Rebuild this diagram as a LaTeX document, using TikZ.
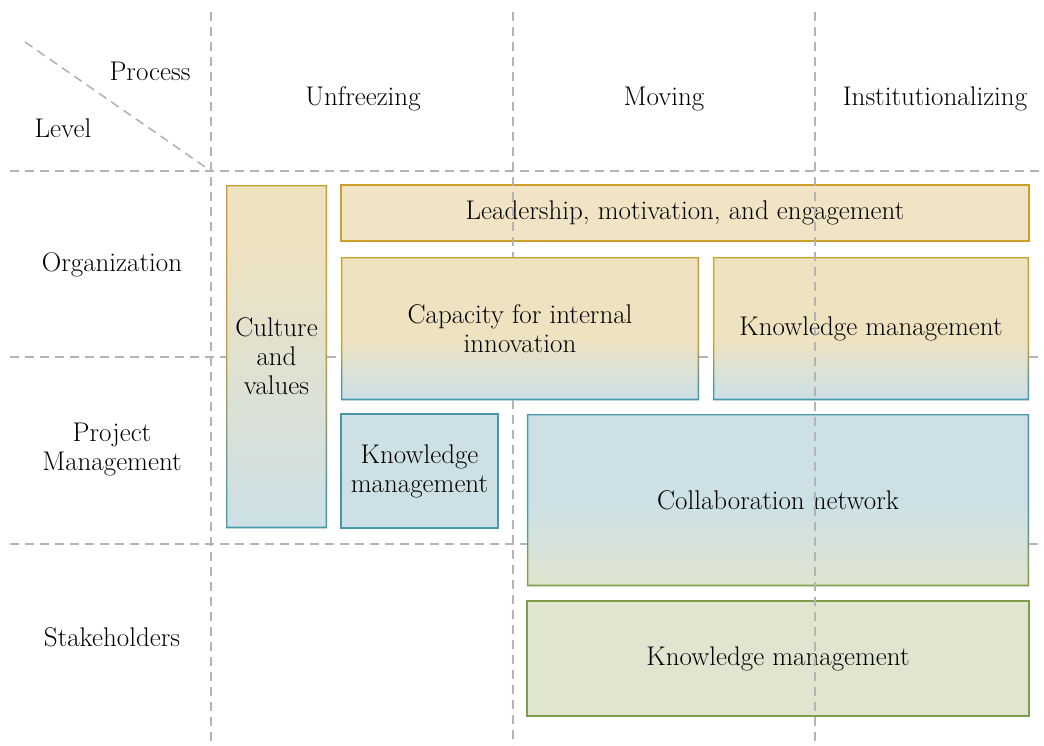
\documentclass[tikz,border=0pt]{standalone}
\usetikzlibrary{calc}
\definecolor{cTan}{RGB}{239,226,192}
\definecolor{cTanP}{RGB}{240,228,196}
\definecolor{cBlue}{RGB}{204,224,230}
\definecolor{cBlueP}{RGB}{204,224,230}
\definecolor{cGreen}{RGB}{223,229,207}
\definecolor{cGold}{RGB}{204,160,40}
\definecolor{cTeal}{RGB}{72,152,172}
\definecolor{cOlive}{RGB}{125,157,72}
\definecolor{cDash}{RGB}{180,180,180}
\pgfdeclareverticalshading{capfill}{100bp}{color(0bp)=(cBlue); color(25bp)=(cBlue); color(47bp)=(cTan); color(100bp)=(cTan)}
\pgfdeclareverticalshading{capborder}{100bp}{color(0bp)=(cTeal); color(30bp)=(cTeal); color(45bp)=(cGold); color(100bp)=(cGold)}
\pgfdeclareverticalshading{culfill}{100bp}{color(0bp)=(cBlue); color(25bp)=(cBlue); color(67bp)=(cTan); color(100bp)=(cTan)}
\pgfdeclareverticalshading{culborder}{100bp}{color(0bp)=(cTeal); color(30bp)=(cTeal); color(52bp)=(cGold); color(100bp)=(cGold)}
\pgfdeclareverticalshading{colfill}{100bp}{color(0bp)=(cGreen); color(25bp)=(cGreen); color(50bp)=(cBlue); color(100bp)=(cBlue)}
\pgfdeclareverticalshading{colborder}{100bp}{color(0bp)=(cOlive); color(32bp)=(cOlive); color(45bp)=(cTeal); color(100bp)=(cTeal)}
\newcommand\gradframe[2]{\shade[shading=#2,even odd rule] (#1.north west) rectangle (#1.south east) ([shift={(1.4pt,-1.4pt)}]#1.north west) rectangle ([shift={(-1.4pt,1.4pt)}]#1.south east);}
\tikzset{
  gridline/.style={draw=cDash, line width=1.6pt, dash pattern=on 9pt off 6pt},
  txt/.style={font=\fontsize{27}{29}\selectfont, align=center, inner sep=0pt},
  boxbase/.style={txt, outer sep=0pt, inner sep=0pt},
  shbox/.style={boxbase},
  patbox/.style={boxbase, line width=1.4pt},
}
\begin{document}
\begin{tikzpicture}[x=1pt,y=-1pt]
\useasboundingbox (0,0) rectangle (1044,745);
% grid coordinates
\coordinate (h1l) at (10,171); \coordinate (h1r) at (1044,171);
\coordinate (h2l) at (10,357); \coordinate (h2r) at (1044,357);
\coordinate (h3l) at (10,544); \coordinate (h3r) at (1044,544);
\coordinate (v1t) at (211,12); \coordinate (v1b) at (211,745);
\coordinate (v2t) at (513,12); \coordinate (v2b) at (513,745);
\coordinate (v3t) at (815,12); \coordinate (v3b) at (815,745);
\coordinate (dg) at (25,42);
% header labels
\node[txt] (process) at (150,71) {Process};
\node[txt] (level) at (63,128) {Level};
\node[txt] (unf) at (363,99) {Unfreezing};
\node[txt] (mov) at (664,99) {Moving};
\node[txt] (inst) at (935,99) {Institutionalizing};
\node[txt] (org) at (112,265) {Organization};
\node[txt] (pm) at (112,450) {Project\\Management};
\node[txt] (stk) at (112,637) {Stakeholders};
% boxes
\node[patbox, draw=cGold, fill=cTanP, minimum width=688pt, minimum height=56pt] (lead) at (685,213) {Leadership, motivation, and engagement};
\node[shbox, shading=culfill, minimum width=101pt, minimum height=343pt] (cult) at (276.5,356.5) {Culture\\and\\values};
\gradframe{cult}{culborder}
\node[shbox, shading=capfill, minimum width=358pt, minimum height=143pt] (cap) at (520,328.5) {Capacity for internal\\innovation};
\gradframe{cap}{capborder}
\node[shbox, shading=capfill, minimum width=316pt, minimum height=143pt] (km1) at (871,328.5) {Knowledge management};
\gradframe{km1}{capborder}
\node[patbox, draw=cTeal, fill=cBlueP, minimum width=157pt, minimum height=114pt] (km2) at (419.5,471) {Knowledge\\management};
\node[shbox, shading=colfill, minimum width=502pt, minimum height=172pt] (coll) at (778,500) {Collaboration network};
\gradframe{coll}{colborder}
\node[patbox, draw=cOlive, fill=cGreen, minimum width=502pt, minimum height=115pt] (km3) at (778,658.5) {Knowledge management};
% grid lines (visible parts)
\draw[gridline] (h1l) -- (h1r);
\draw[gridline] (h2l) -- (h2l -| cult.west);
\draw[gridline] (h2l -| cult.east) -- (h2l -| cap.west);
\draw[gridline] (h2l -| cap.east) -- (h2l -| km1.west);
\draw[gridline] (h2l -| km1.east) -- (h2r);
\draw[gridline] (h3l) -- (h3l -| coll.west);
\draw[gridline] (h3l -| coll.east) -- (h3r);
\draw[gridline] (v1t) -- (v1b);
\draw[gridline] (dg) -- (v1t |- h1l);
\draw[gridline] (v2t) -- (v2t |- cap.north);
\draw[gridline] (v2t |- cap.south) -- (v2b);
\draw[gridline] (v3t) -- (v3b);
\end{tikzpicture}
\end{document}
